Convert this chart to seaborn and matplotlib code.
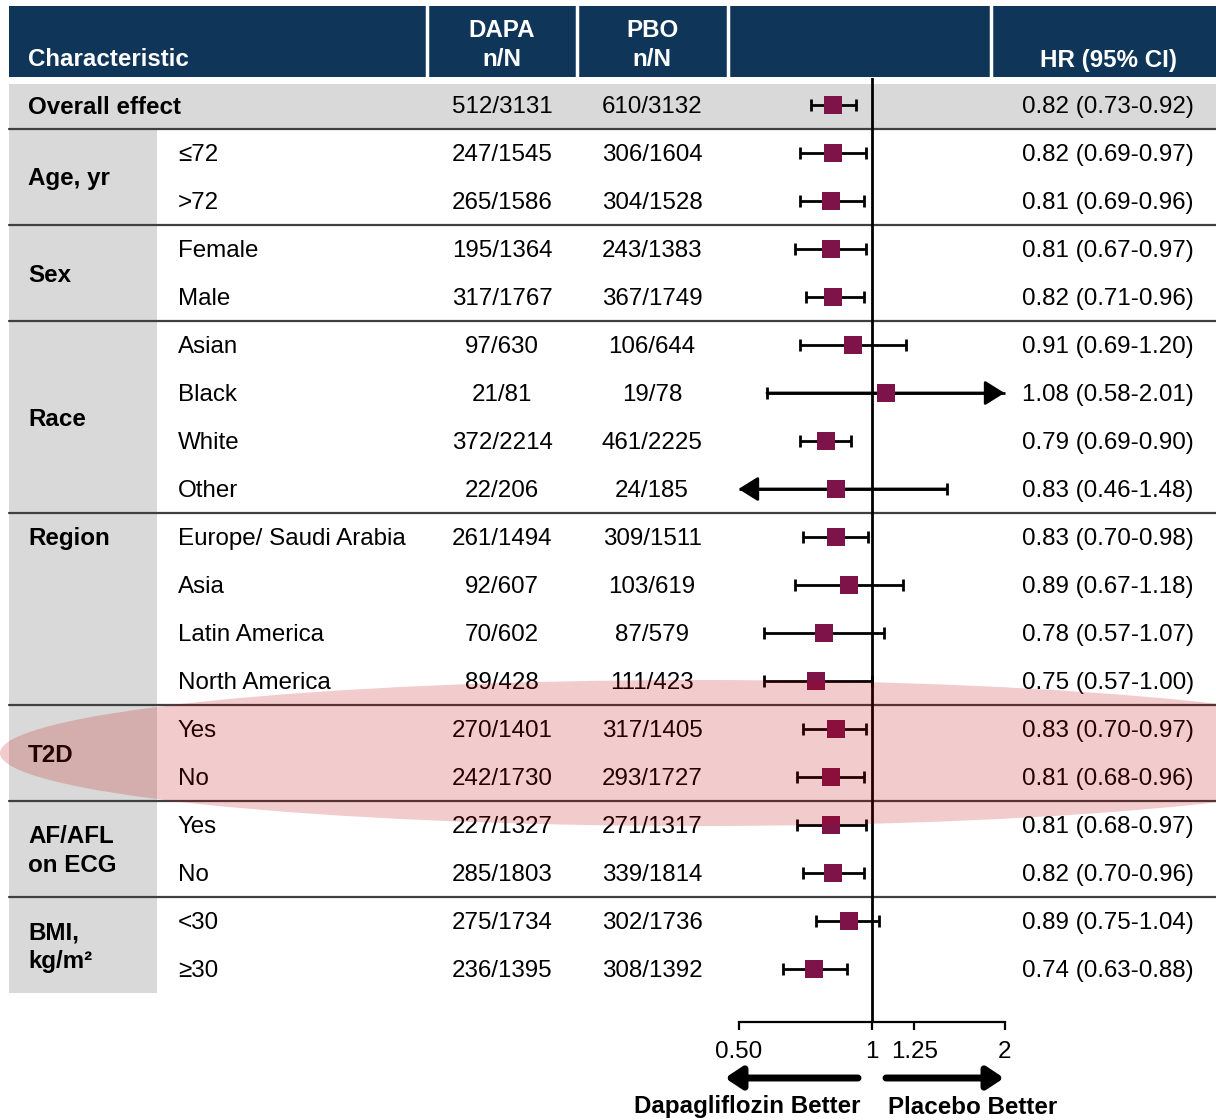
import numpy as np
import pandas as pd
import matplotlib
matplotlib.use("Agg")
import matplotlib.pyplot as plt
import seaborn as sns
from matplotlib.patches import Rectangle, Ellipse
from matplotlib.ticker import NullLocator, FixedLocator, FixedFormatter

sns.set_theme(style="white")
plt.rcParams['font.family'] = ['Liberation Sans', 'DejaVu Sans']
plt.rcParams['text.color'] = 'black'
plt.rcParams['xtick.color'] = 'black'

# ---------------- data ----------------
groups = ["Overall effect", "Age, yr", "Sex", "Race", "Region", "T2D",
          "AF/AFL\non ECG", "BMI,\nkg/m\u00b2"]
group_sizes = [1, 2, 2, 4, 4, 2, 2, 2]
group_label_pos = ["row", "center", "center", "center", "top", "center", "center", "center"]

subgroups = ["", "\u226472", ">72", "Female", "Male", "Asian", "Black", "White", "Other",
             "Europe/ Saudi Arabia", "Asia", "Latin America", "North America",
             "Yes", "No", "Yes", "No", "<30", "\u226530"]
dapa = ["512/3131", "247/1545", "265/1586", "195/1364", "317/1767", "97/630", "21/81",
        "372/2214", "22/206", "261/1494", "92/607", "70/602", "89/428", "270/1401",
        "242/1730", "227/1327", "285/1803", "275/1734", "236/1395"]
pbo = ["610/3132", "306/1604", "304/1528", "243/1383", "367/1749", "106/644", "19/78",
       "461/2225", "24/185", "309/1511", "103/619", "87/579", "111/423", "317/1405",
       "293/1727", "271/1317", "339/1814", "302/1736", "308/1392"]
hr = [0.82, 0.82, 0.81, 0.81, 0.82, 0.91, 1.08, 0.79, 0.83, 0.83, 0.89, 0.78, 0.75,
      0.83, 0.81, 0.81, 0.82, 0.89, 0.74]
lo = [0.73, 0.69, 0.69, 0.67, 0.71, 0.69, 0.58, 0.69, 0.46, 0.70, 0.67, 0.57, 0.57,
      0.70, 0.68, 0.68, 0.70, 0.75, 0.63]
hi = [0.92, 0.97, 0.96, 0.97, 0.96, 1.20, 2.01, 0.90, 1.48, 0.98, 1.18, 1.07, 1.00,
      0.97, 0.96, 0.97, 0.96, 1.04, 0.88]
xticks = [0.5, 1, 1.25, 2]
xticklabels = ["0.50", "1", "1.25", "2"]
headers = ["Characteristic", "DAPA\nn/N", "PBO\nn/N", "HR (95% CI)"]
axis_min, axis_max = 0.5, 2.0

df = pd.DataFrame({"row": np.arange(len(hr)), "hr": hr, "lo": lo, "hi": hi})

# ---------------- layout ----------------
W, H = 1216, 1120
fig = plt.figure(figsize=(W / 100, H / 100), dpi=100)
ax = fig.add_axes([0, 0, 1, 1])
ax.set_xlim(0, W)
ax.set_ylim(H, 0)
ax.axis("off")

FS = 17.4
NAVY = "#0f3659"
GRAY = "#d9d9d9"
LINE = "#404040"
MAROON = "#7d1349"
DY = 2  # text vertical nudge

row0, rowh = 105, 48
def ry(i):
    return row0 + rowh * i

# header
ax.add_patch(Rectangle((9, 6), W - 9, 71, color=NAVY, lw=0, zorder=1))
for xs in [427, 577, 728, 991]:
    ax.plot([xs, xs], [6, 77], color="white", lw=2.5, zorder=2)
ax.text(28, 58 + DY, headers[0], color="white", fontsize=FS, fontweight="bold", va="center", ha="left")
ax.text(502, 43 + DY, headers[1], color="white", fontsize=FS, fontweight="bold", va="center",
        ha="center", linespacing=1.28)
ax.text(652, 43 + DY, headers[2], color="white", fontsize=FS, fontweight="bold", va="center",
        ha="center", linespacing=1.28)
ax.text(1108, 58 + DY, headers[3], color="white", fontsize=FS, fontweight="bold", va="center", ha="center")

# overall band and left column
ax.add_patch(Rectangle((9, 84), W - 9, 45, color=GRAY, lw=0, zorder=1))
n = len(hr)
ax.add_patch(Rectangle((9, ry(1) - 24), 148, ry(n - 1) + 24 - (ry(1) - 24), color=GRAY, lw=0, zorder=1))

# separators and group labels
start = 0
for g, size, pos in zip(groups, group_sizes, group_label_pos):
    end = start + size
    ysep = ry(end) - 24
    if end < n:
        ax.plot([9, W], [ysep, ysep], color=LINE, lw=1.6, zorder=3)
    if pos in ("row", "top"):
        ax.text(28, ry(start) + DY, g, fontsize=FS, fontweight="bold", va="center", ha="left", zorder=4)
    else:
        yc = (ry(start) + ry(end - 1)) / 2
        ax.text(28, yc + DY, g, fontsize=FS, fontweight="bold", va="center", ha="left",
                linespacing=1.28, zorder=4)
    start = end

for i in range(n):
    y = ry(i) + DY
    if subgroups[i]:
        ax.text(178, y, subgroups[i], fontsize=FS, va="center", ha="left", zorder=4)
    ax.text(502, y, dapa[i], fontsize=FS, va="center", ha="center", zorder=4)
    ax.text(652, y, pbo[i], fontsize=FS, va="center", ha="center", zorder=4)
    ax.text(1108, y, f"{hr[i]:.2f} ({lo[i]:.2f}-{hi[i]:.2f})", fontsize=FS,
            va="center", ha="center", zorder=4)

# ---------------- forest axes ----------------
px0, px1, py0, py1 = 700, 1040, 78, 1022
one_px, per_unit = 871.5, 133.0
fa = fig.add_axes([px0 / W, 1 - py1 / H, (px1 - px0) / W, (py1 - py0) / H])
fa.patch.set_alpha(0)
fa.set_xscale("log", base=2)
fa.set_xlim(2 ** ((px0 - one_px) / per_unit), 2 ** ((px1 - one_px) / per_unit))
fa.set_ylim((py1 - row0) / rowh, (py0 - row0) / rowh)

fa.axvline(1, color="black", lw=2, zorder=1)

for _, r in df.iterrows():
    y = r["row"]
    l, h = r["lo"], r["hi"]
    lc, hc = max(l, axis_min), min(h, axis_max)
    fa.plot([lc, hc], [y, y], color="black", lw=2, zorder=2, solid_capstyle="butt")
    if l >= axis_min:
        fa.plot([l], [y], marker="|", ms=9, mew=2, color="black", zorder=2)
    else:
        fa.annotate("", xy=(axis_min, y), xytext=(hc, y),
                    arrowprops=dict(arrowstyle="-|>,head_length=0.4,head_width=0.25",
                                    color="black", lw=2, mutation_scale=30,
                                    shrinkA=0, shrinkB=0), zorder=2)
    if h <= axis_max:
        fa.plot([h], [y], marker="|", ms=9, mew=2, color="black", zorder=2)
    else:
        fa.annotate("", xy=(axis_max, y), xytext=(lc, y),
                    arrowprops=dict(arrowstyle="-|>,head_length=0.4,head_width=0.25",
                                    color="black", lw=2, mutation_scale=30,
                                    shrinkA=0, shrinkB=0), zorder=2)

sns.scatterplot(data=df, x="hr", y="row", marker="s", s=185, color=MAROON,
                linewidth=0, ax=fa, zorder=5, legend=False)

for s in ["top", "right", "left"]:
    fa.spines[s].set_visible(False)
fa.spines["bottom"].set_bounds(axis_min, axis_max)
fa.spines["bottom"].set_linewidth(1.6)
fa.spines["bottom"].set_color("black")
fa.xaxis.set_major_locator(FixedLocator(xticks))
fa.xaxis.set_major_formatter(FixedFormatter(xticklabels))
fa.xaxis.set_minor_locator(NullLocator())
fa.tick_params(axis="x", direction="out", length=6, width=1.6, pad=8, labelsize=FS,
               colors="black", bottom=True)
fa.set_yticks([])
fa.set_xlabel("")
fa.set_ylabel("")

# ---------------- bottom arrows ----------------
ov = fig.add_axes([0, 0, 1, 1])
ov.set_xlim(0, W)
ov.set_ylim(H, 0)
ov.axis("off")
ov.patch.set_alpha(0)
arrow_kw = dict(arrowstyle="-|>,head_length=0.45,head_width=0.3", color="black", lw=5,
                mutation_scale=22, shrinkA=0, shrinkB=0)
ov.annotate("", xy=(725, 1078), xytext=(858, 1078), arrowprops=arrow_kw)
ov.annotate("", xy=(1004, 1078), xytext=(886, 1078), arrowprops=arrow_kw)
ov.text(747, 1107, "Dapagliflozin Better", fontsize=FS, fontweight="bold", ha="center", va="center")
ov.text(973, 1107, "Placebo Better", fontsize=FS, fontweight="bold", ha="center", va="center")

# highlight ellipse
ov.add_patch(Ellipse((700, 753), 1400, 146, color="#c00000", alpha=0.2, lw=0, zorder=10))

fig.savefig("out.png", dpi=100)
